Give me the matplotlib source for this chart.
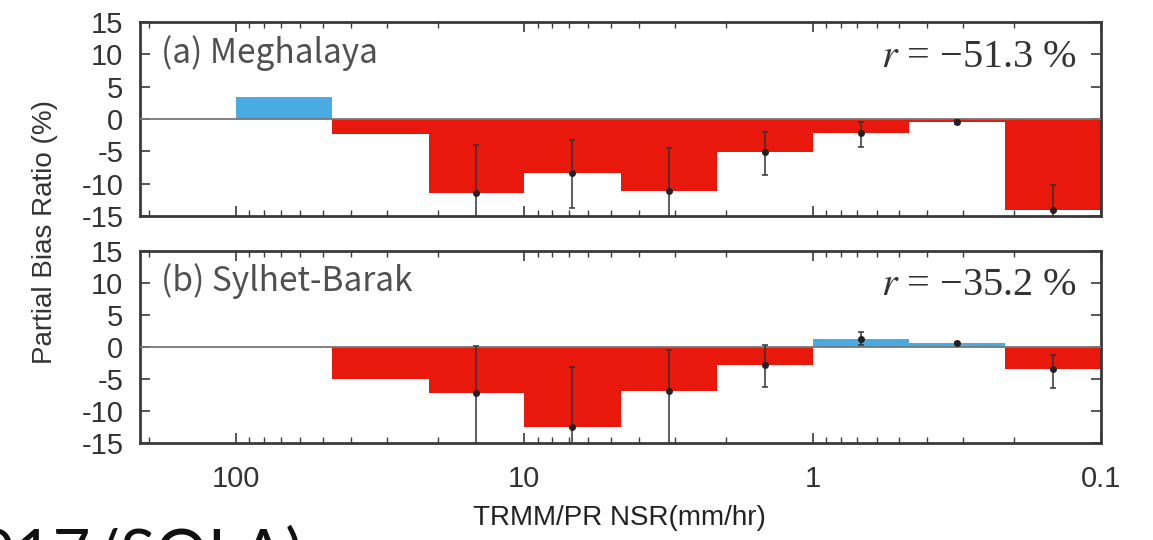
import numpy as np
import matplotlib
matplotlib.use('Agg')
import matplotlib.pyplot as plt

plt.rcParams['font.family'] = ['Liberation Sans', 'DejaVu Sans']
plt.rcParams['axes.unicode_minus'] = False
plt.rcParams['mathtext.fontset'] = 'stix'

# rain-rate bins (mm/hr), from heavy to light
bin_edges = [215.4, 100, 46.4, 21.5, 10, 4.64, 2.15, 1, 0.464, 0.215, 0.1]

# (a) Meghalaya
pbr_a = [np.nan, 3.4, -2.3, -11.4, -8.4, -11.1, -5.1, -2.1, -0.5, -14.1]
err_hi_a = [np.nan, np.nan, np.nan, -4.0, -3.2, -4.5, -2.0, -0.4, -0.2, -10.2]
err_lo_a = [np.nan, np.nan, np.nan, -20, -13.8, -20, -8.7, -4.3, -0.8, -20]

# (b) Sylhet-Barak
pbr_b = [np.nan, np.nan, -5.0, -7.2, -12.5, -6.9, -2.8, 1.3, 0.6, -3.4]
err_hi_b = [np.nan, np.nan, np.nan, 0.2, -3.1, -0.5, 0.3, 2.3, 0.8, -1.2]
err_lo_b = [np.nan, np.nan, np.nan, -20, -20, -20, -6.2, 0.3, 0.4, -6.4]

panels = ['(a) Meghalaya', '(b) Sylhet-Barak']
r_text = ['$r$ = \u221251.3 %', '$r$ = \u221235.2 %']

RED = '#e8180c'
BLUE = '#4aabe2'
FRAME = '#3a3a3a'

fig = plt.figure(figsize=(11.53, 5.40), dpi=100)
ax1 = fig.add_axes([0.1214, 0.600, 0.8335, 0.359])
ax2 = fig.add_axes([0.1214, 0.1796, 0.8335, 0.356])

lo = np.array(bin_edges[1:])
hi = np.array(bin_edges[:-1])
mid = np.sqrt(lo * hi)

datasets = [(pbr_a, err_hi_a, err_lo_a), (pbr_b, err_hi_b, err_lo_b)]
for ax, (vals, ehi, elo), name, rt in zip([ax1, ax2], datasets, panels, r_text):
    vals = np.array(vals, dtype=float)
    ehi = np.array(ehi, dtype=float)
    elo = np.array(elo, dtype=float)
    ok = ~np.isnan(vals)
    cols = [BLUE if v > 0 else RED for v in vals[ok]]
    ax.bar(lo[ok], vals[ok], width=hi[ok] - lo[ok], align='edge',
           color=cols, edgecolor='none', zorder=2)
    ax.axhline(0, color='#777777', lw=1.3, zorder=3)
    ek = ~np.isnan(ehi)
    ax.errorbar(mid[ek], vals[ek], yerr=[vals[ek] - elo[ek], ehi[ek] - vals[ek]],
                fmt='o', ms=4, color='#222222', ecolor='#333333', elinewidth=1.1,
                capsize=2.5, capthick=1.1, zorder=4, clip_on=True)

    ax.set_xscale('log')
    ax.set_xlim(215.4, 0.1)
    ax.set_ylim(-15, 15)
    ax.set_yticks([-15, -10, -5, 0, 5, 10, 15])
    ax.tick_params(which='both', direction='in', top=True, right=True,
                   colors=FRAME, labelcolor='#333333', labelsize=21)
    ax.tick_params(axis='y', pad=12)
    ax.tick_params(which='major', length=7, width=1.2)
    ax.tick_params(which='minor', length=4, width=1.0)
    for s in ax.spines.values():
        s.set_linewidth(2)
        s.set_color(FRAME)
    ax.text(0.022, 0.84, name, transform=ax.transAxes, fontsize=24,
            family=['Noto Sans CJK JP', 'DejaVu Sans'], color='#505050', va='center')
    ax.text(0.975, 0.82, rt, transform=ax.transAxes, fontsize=29,
            family=['Liberation Serif', 'DejaVu Serif'], color='#333333',
            ha='right', va='center')

ax1.tick_params(labelbottom=False)
ax2.set_xticks([100, 10, 1, 0.1])
ax2.set_xticklabels(['100', '10', '1', '0.1'])
ax2.tick_params(axis='x', pad=16)

fig.text(0.039, 0.57, 'Partial Bias Ratio (%)', rotation=90, fontsize=20,
         color='#333333', ha='center', va='center')
fig.text(0.5375, 0.041, 'TRMM/PR NSR(mm/hr)', fontsize=20, color='#222222',
         ha='center', va='center')
fig.text(-0.02, -0.066, '017/SOLA)', fontsize=47, family=['Lato', 'DejaVu Sans'],
         color='#111111', ha='left', va='baseline')

fig.savefig('out.png', dpi=100)
